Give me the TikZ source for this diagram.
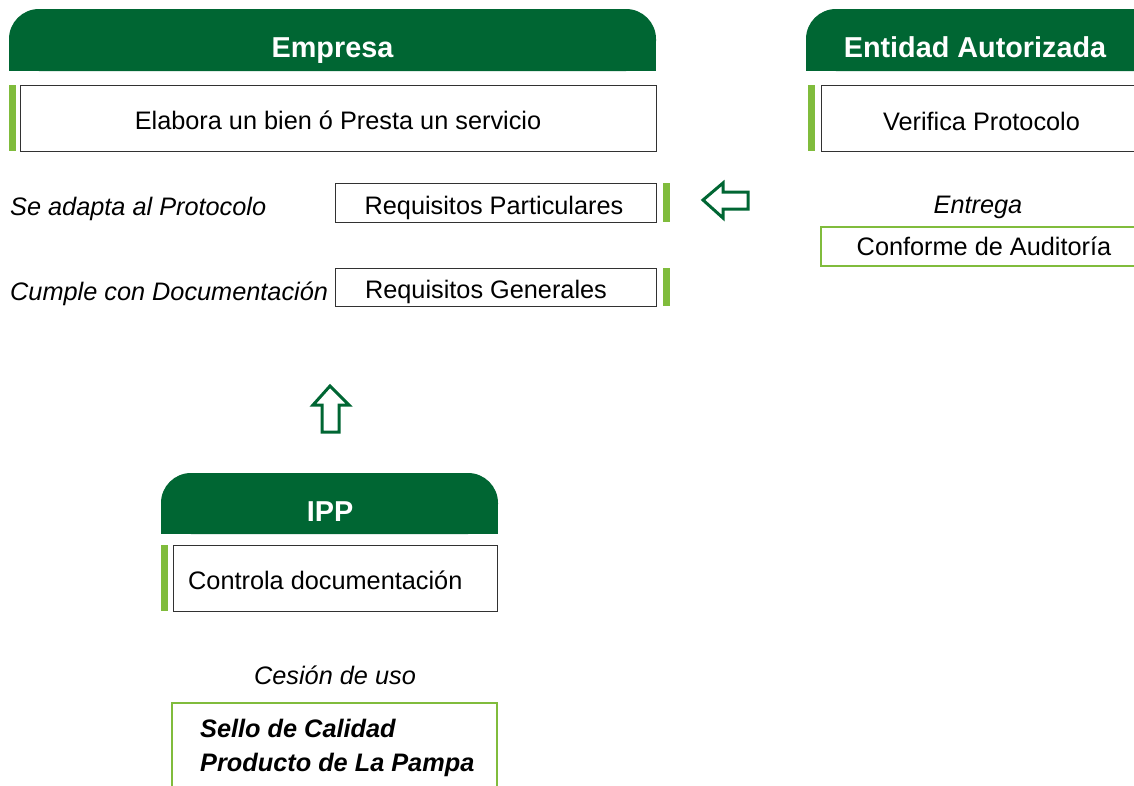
\documentclass[tikz,border=0pt]{standalone}
\usepackage{fontspec}
\setmainfont{Liberation Sans}
\definecolor{dkgreen}{RGB}{0,102,51}
\definecolor{ltgreen}{RGB}{128,188,60}
\definecolor{boxline}{RGB}{50,50,50}
\tikzset{
  hdrfill/.style={fill=dkgreen},
  hdrtext/.style={anchor=base, text=white, font=\fontsize{28.8}{34}\selectfont\bfseries, inner sep=0pt},
  body/.style={anchor=base, font=\fontsize{25.3}{30}\selectfont, inner sep=0pt},
  bodyit/.style={body, font=\fontsize{25.3}{30}\selectfont\itshape},
  wbox/.style={draw=boxline, line width=1pt, fill=white},
  gbox/.style={draw=ltgreen, line width=2.5pt, fill=white},
  bar/.style={fill=ltgreen},
  blockarrow/.style={draw=dkgreen, line width=3pt, line join=miter, fill=white}
}
\begin{document}
\begin{tikzpicture}[x=1pt,y=-1pt]
\clip (0,0) rectangle (1134,785);
\fill[white] (0,0) rectangle (1134,785);

% ---- Empresa ----
\fill[hdrfill, rounded corners=30pt] (9,9) rectangle (656,71);
\fill[hdrfill] (9,40) rectangle (656,71);
\node[hdrtext] (empresa) at (332.5,57) {Empresa};

\fill[bar] (9,85) rectangle (16,151);
\draw[wbox] (20,85) rectangle (656,151);
\node[body] (elabora) at (338,129) {Elabora un bien ó Presta un servicio};

\node[bodyit, anchor=base west] (adapta) at (10,215) {Se adapta al Protocolo};
\draw[wbox] (335,183) rectangle (656,222);
\node[body] (reqpart) at (494,214) {Requisitos Particulares};
\fill[bar] (663,183) rectangle (670,222);

\node[bodyit, anchor=base west] (cumple) at (10,300) {Cumple con Documentación};
\draw[wbox] (335,268) rectangle (656,306);
\node[body] (reqgen) at (486,298) {Requisitos Generales};
\fill[bar] (663,268) rectangle (670,306);

% ---- left block arrow ----
\draw[blockarrow] (703,200) -- (723,183) -- (723,192) -- (748,192) -- (748,209) -- (723,209) -- (723,218) -- cycle;

% ---- Entidad Autorizada ----
\fill[hdrfill, rounded corners=30pt] (806,9) rectangle (1170,71);
\fill[hdrfill] (806,40) rectangle (1170,71);
\node[hdrtext] (entidad) at (975,57) {Entidad Autorizada};

\fill[bar] (808,85) rectangle (815,151);
\draw[wbox] (821,85) rectangle (1150,151);
\node[body] (verifica) at (981.5,130) {Verifica Protocolo};

\node[bodyit] (entrega) at (978,213) {Entrega};
\draw[gbox] (821,227) rectangle (1150,266);
\node[body] (conforme) at (984,255) {Conforme de Auditoría};

% ---- up block arrow ----
\draw[blockarrow] (330,386) -- (349,405) -- (339,405) -- (339,432) -- (322,432) -- (322,405) -- (313,405) -- cycle;

% ---- IPP ----
\fill[hdrfill, rounded corners=30pt] (161,473) rectangle (498,534);
\fill[hdrfill] (161,504) rectangle (498,534);
\node[hdrtext] (ipp) at (330,521) {IPP};

\fill[bar] (161,545) rectangle (168,611);
\draw[wbox] (173,545) rectangle (497,611);
\node[body, anchor=base west] (controla) at (188,589) {Controla documentación};

\node[bodyit] (cesion) at (335,684) {Cesión de uso};
\draw[gbox] (172,703) rectangle (497,800);
\node[body, anchor=base west, font=\fontsize{25.3}{30}\selectfont\bfseries\itshape] (sello1) at (200,737) {Sello de Calidad};
\node[body, anchor=base west, font=\fontsize{25.3}{30}\selectfont\bfseries\itshape] (sello2) at (200,771) {Producto de La Pampa};
\end{tikzpicture}
\end{document}
